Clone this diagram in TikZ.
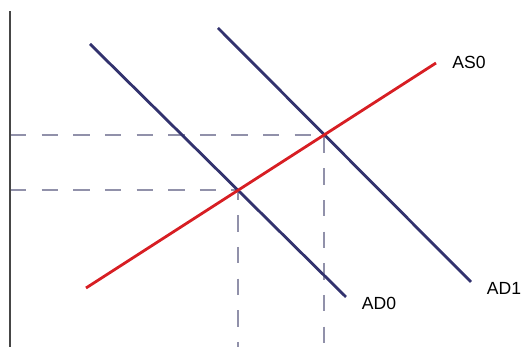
\documentclass[tikz,border=0pt]{standalone}
\usepackage{fontspec}
\setmainfont{Liberation Sans}
\usetikzlibrary{intersections}

\definecolor{adblue}{RGB}{50,50,110}
\definecolor{asred}{RGB}{215,30,35}
\definecolor{guidegray}{RGB}{145,145,170}
\definecolor{axisgray}{RGB}{70,70,70}

\begin{document}
\begin{tikzpicture}[x=0.03cm, y=0.03cm,
    axisline/.style={draw=axisgray, line width=1.6pt},
    adcurve/.style={draw=adblue, line width=2.4pt},
    ascurve/.style={draw=asred, line width=2.4pt},
    guide/.style={draw=guidegray, line width=1.8pt, dash pattern=on 14pt off 13pt},
    curvelabel/.style={font=\fontsize{15}{17}\selectfont, inner sep=0pt}]
    \useasboundingbox (0,0) rectangle (526,347);
    \coordinate (base) at (10,0); \coordinate (top) at (10,336);

    % demand and supply curves
    \path[name path=ad0] (90,303) coordinate (ad0a) -- (346,50) coordinate (ad0b);
    \path[name path=ad1] (218,319) coordinate (ad1a) -- (471,65) coordinate (ad1b);
    \path[name path=as0] (86,59) coordinate (as0a) -- (436,284) coordinate (as0b);
    \path[name intersections={of=ad0 and as0, by=e0}];
    \path[name intersections={of=ad1 and as0, by=e1}];

    % guide lines to the axes
    \draw[guide] (e0 -| base) -- (e0) -- (e0 |- base);
    \draw[guide] (e1 -| base) -- (e1) -- (e1 |- base);

    \draw[axisline] (base) -- (top);
    \draw[adcurve] (ad0a) -- (ad0b); \draw[adcurve] (ad1a) -- (ad1b);
    \draw[ascurve] (as0a) -- (as0b);

    \node[curvelabel] (as0) at (469,285) {AS0};
    \node[curvelabel] (ad0) at (379,44) {AD0};
    \node[curvelabel] (ad1) at (504,59) {AD1};
\end{tikzpicture}
\end{document}
